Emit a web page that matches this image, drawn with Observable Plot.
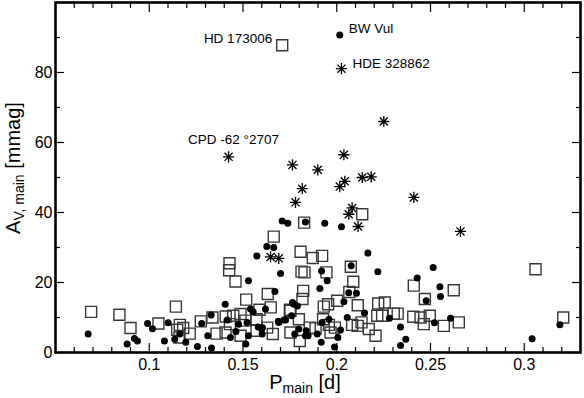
<!DOCTYPE html>
<html><head><meta charset="utf-8">
<script src="https://cdn.jsdelivr.net/npm/d3@7"></script>
<script src="https://cdn.jsdelivr.net/npm/@observablehq/plot@0.6"></script>
<style>body{margin:0;background:#fff}#chart{width:584px;height:398px}</style>
</head><body><div id="chart"></div>
<script>
// ---- data (period [d], amplitude [mmag]) ----
const circP = [0.2016,0.0674,0.0882,0.0921,0.0937,0.0991,0.1017,0.1081,0.1101,0.1136,0.1163,0.1195,0.1257,0.1280,0.1312,0.1332,0.1330,0.1405,0.1416,0.1433,0.1462,0.1476,0.1515,0.1529,0.1529,0.1540,0.1554,0.1574,0.1581,0.1604,0.1620,0.1627,0.1664,0.1670,0.1700,0.1688,0.1709,0.1739,0.1718,0.1764,0.1759,0.1776,0.1833,0.1936,0.2025,0.2166,0.2077,0.2219,0.1919,0.1949,0.1910,0.2064,0.2105,0.2038,0.2148,0.2056,0.2281,0.2429,0.2514,0.2550,0.2553,0.2477,0.2521,0.2607,0.2340,0.2368,0.2340,0.3042,0.3190,0.1988,0.1917,0.2006,0.2020,0.1896,0.1771,0.1833,0.1790,0.1727,0.1798,0.1837,0.1847,0.1922,0.1958,0.1691,0.1602,0.1599,0.1522];
const circA = [90.7,5.3,2.4,4.0,3.3,8.3,6.8,3.3,8.5,3.8,5.3,2.9,1.7,8.3,4.8,1.3,10.7,13.8,9.3,4.3,6.0,8.1,2.4,4.8,20.5,12.4,11.6,27.6,7.3,7.1,12.4,30.3,30.0,17.4,22.6,8.9,37.6,36.9,9.3,14.3,10.5,5.3,37.3,36.9,35.9,28.4,24.8,23.1,23.3,20.5,18.3,17.1,16.9,14.5,11.3,10.0,9.8,21.3,24.3,18.8,16.0,14.8,8.5,9.8,7.3,3.8,2.0,3.9,7.9,1.6,2.9,4.3,6.4,5.3,13.8,4.8,13.3,9.3,6.7,6.2,4.8,8.6,9.5,8.6,5.3,6.7,8.6];

const sqP = [0.1709,0.0690,0.0841,0.0900,0.1049,0.1142,0.1149,0.1163,0.1181,0.1216,0.1275,0.1337,0.1359,0.1428,0.1426,0.1460,0.1408,0.1448,0.1430,0.1487,0.1487,0.1517,0.1513,0.1572,0.1588,0.1629,0.1659,0.1632,0.1648,0.1664,0.1753,0.1750,0.1826,0.2136,0.1807,0.1872,0.1922,0.1812,0.1828,0.1945,0.2075,0.2088,0.1821,0.1817,0.2002,0.1954,0.1931,0.2112,0.2067,0.2221,0.2256,0.2216,0.2242,0.2304,0.2325,0.2411,0.2470,0.2624,0.3060,0.3208,0.2408,0.2447,0.2496,0.2464,0.2571,0.2651,0.1753,0.1798,0.1803,0.1856,0.1927,0.1958,0.1967,0.2082,0.2112,0.2171,0.2207,0.1990,0.2132,0.1887,0.1407,0.1572,0.1161];
const sqA = [87.8,11.6,10.8,7.0,8.3,13.1,6.5,7.9,7.0,5.4,8.9,10.0,5.4,25.5,23.5,20.3,10.3,10.5,8.1,11.0,4.8,15.1,9.1,9.5,12.2,7.1,5.3,16.7,12.9,33.1,5.7,12.2,37.1,39.5,28.8,27.0,27.6,23.1,22.9,22.9,24.5,20.2,17.6,15.3,14.8,13.8,13.1,13.5,17.3,14.0,14.3,10.5,10.5,11.1,11.1,19.1,15.3,17.8,23.8,10.0,10.2,10.0,10.5,8.1,7.6,8.6,11.9,9.5,3.3,7.1,9.5,7.9,5.7,7.9,7.6,6.7,4.8,7.1,8.6,6.9,5.7,6.2,4.3];

const astP = [0.1423,0.1764,0.1816,0.1780,0.1899,0.2038,0.2016,0.2043,0.2136,0.2184,0.2251,0.2411,0.2082,0.2064,0.2114,0.2025,0.2660,0.1647,0.1691];
const astA = [55.9,53.6,46.8,42.9,52.2,56.5,47.4,48.9,50.0,50.2,66.0,44.3,41.3,39.5,36.0,81.1,34.6,27.3,26.9];

const labelNames = ["HD 173006","BW Vul","HDE 328862","CPD -62 °2707"];
const labelP = [0.1709,0.2016,0.2025,0.1423];
const labelA = [87.8,90.7,81.1,55.9];

const xMajor = [0.1,0.15,0.2,0.25,0.3];
const xTickLabels = ["0.1","0.15","0.2","0.25","0.3"];
const xMinor = [0.06,0.07,0.08,0.09,0.11,0.12,0.13,0.14,0.16,0.17,0.18,0.19,0.21,0.22,0.23,0.24,0.26,0.27,0.28,0.29,0.31,0.32];
const yMajor = [0,20,40,60,80];
const yTickLabels = ["0","20","40","60","80"];
const yMinor = [10,30,50,70,90];

// ---- build ----
const circles = circP.map((p,i)=>({p, a: circA[i]}));
const squares = sqP.map((p,i)=>({p, a: sqA[i]}));
const asterisks = astP.map((p,i)=>({p, a: astA[i]}));
const labels = labelNames.map((n,i)=>({n, p: labelP[i], a: labelA[i]}));

const font = "'Liberation Sans', Arial, Helvetica, sans-serif";
const asteriskSymbol = {
  draw(ctx, size) {
    const r = Math.sqrt(size/Math.PI), d = r*0.72;
    ctx.moveTo(-r,0); ctx.lineTo(r,0);
    ctx.moveTo(0,-r); ctx.lineTo(0,r);
    ctx.moveTo(-d,-d); ctx.lineTo(d,d);
    ctx.moveTo(-d,d); ctx.lineTo(d,-d);
  }
};
const tickOpts = {tickFormat: () => "", label: null, strokeWidth: 1.2};

const svg = Plot.plot({
  width: 584, height: 398,
  marginLeft: 55, marginRight: 4, marginTop: 2, marginBottom: 46,
  style: {fontFamily: font, background: "white", color: "black", overflow: "visible"},
  x: {domain: [0.05, 0.33], label: null},
  y: {domain: [0, 100], label: null},
  marks: [
    Plot.dot(squares, {x: "p", y: "a", symbol: "square", r: 6.2, stroke: "#383838", strokeWidth: 1.4, fill: "none"}),
    Plot.dot(circles, {x: "p", y: "a", r: 3.5, fill: "black", stroke: "none"}),
    Plot.dot(asterisks, {x: "p", y: "a", symbol: asteriskSymbol, r: 5.6, stroke: "black", strokeWidth: 1.3, fill: "none"}),
    // inward ticks
    Plot.axisX(xMajor, {anchor: "bottom", tickSize: 9, dy: -9, ...tickOpts}),
    Plot.axisX(xMinor, {anchor: "bottom", tickSize: 5, dy: -5, ...tickOpts}),
    Plot.axisX(xMajor, {anchor: "top", tickSize: 9, dy: 9, ...tickOpts}),
    Plot.axisX(xMinor, {anchor: "top", tickSize: 5, dy: 5, ...tickOpts}),
    Plot.axisY(yMajor, {anchor: "left", tickSize: 9, dx: 9, ...tickOpts}),
    Plot.axisY(yMinor, {anchor: "left", tickSize: 5, dx: 5, ...tickOpts}),
    Plot.axisY(yMajor, {anchor: "right", tickSize: 9, dx: -9, ...tickOpts}),
    Plot.axisY(yMinor, {anchor: "right", tickSize: 5, dx: -5, ...tickOpts}),
    // tick labels
    Plot.axisX(xMajor, {anchor: "bottom", tickSize: 0, tickPadding: 6, fontSize: 16, label: null,
      tickFormat: d => xTickLabels[xMajor.indexOf(d)]}),
    Plot.axisY(yMajor, {anchor: "left", tickSize: 0, tickPadding: 3, fontSize: 16, label: null,
      tickFormat: d => yTickLabels[yMajor.indexOf(d)]}),
    Plot.frame({stroke: "black", strokeWidth: 2.6}),
    // annotations
    Plot.text([labels[0]], {x: "p", y: "a", text: "n", textAnchor: "end", dx: -10, dy: -7, fontSize: 13.5}),
    Plot.text([labels[1]], {x: "p", y: "a", text: "n", textAnchor: "start", dx: 9, dy: -6, fontSize: 13.5}),
    Plot.text([labels[2]], {x: "p", y: "a", text: "n", textAnchor: "start", dx: 11, dy: -5, fontSize: 13.5}),
    Plot.text([labels[3]], {x: "p", y: "a", text: "n", textAnchor: "middle", dx: 5, dy: -17, fontSize: 13.5})
  ]
});

// axis titles with subscripts
const s = d3.select(svg);
const xt = s.append("text").attr("x", 305).attr("y", 389).attr("text-anchor", "middle")
  .attr("font-family", font).attr("font-size", 20).attr("fill", "black");
xt.append("tspan").text("P");
xt.append("tspan").attr("font-size", 14).attr("dy", 4).text("main");
xt.append("tspan").attr("dy", -4).text(" [d]");

const yt = s.append("text").attr("transform", "translate(20,168) rotate(-90)").attr("text-anchor", "middle")
  .attr("font-family", font).attr("font-size", 20).attr("fill", "black");
yt.append("tspan").text("A");
yt.append("tspan").attr("font-size", 14).attr("dy", 4).text("V, main");
yt.append("tspan").attr("dy", -4).text(" [mmag]");

document.getElementById("chart").appendChild(svg);
</script>
</body></html>
